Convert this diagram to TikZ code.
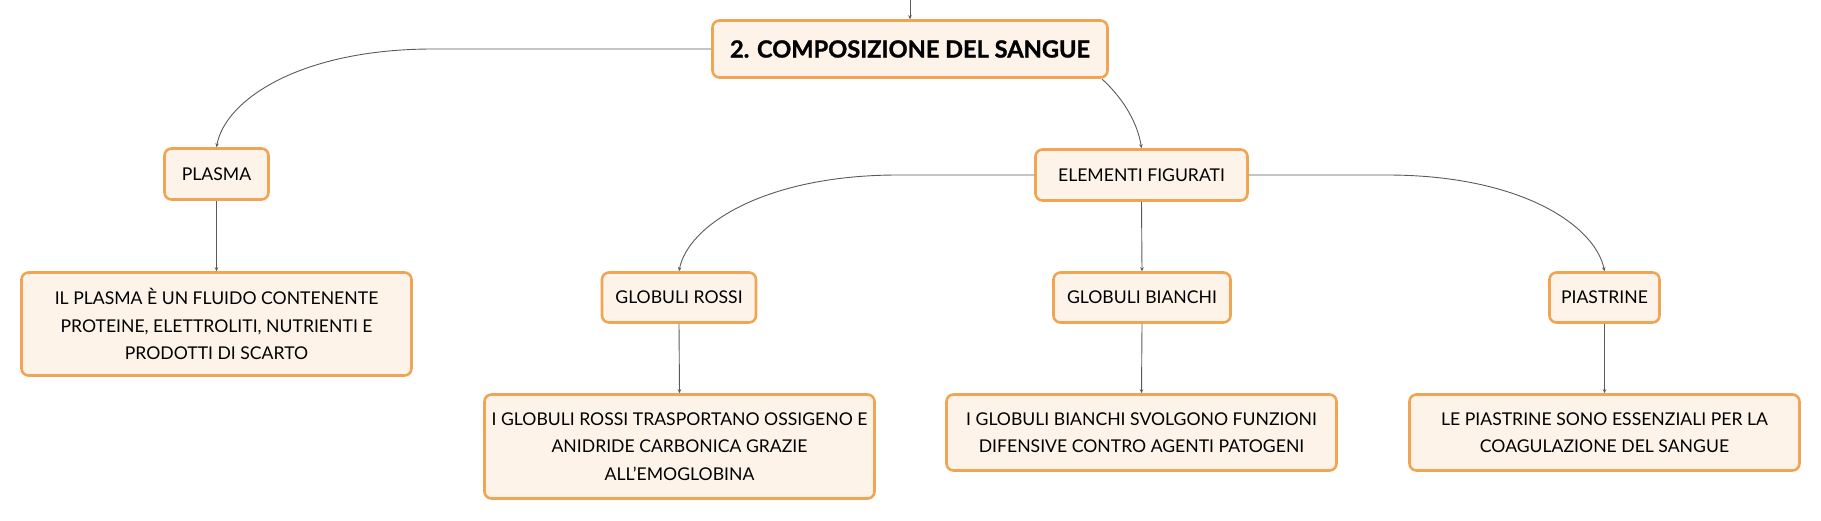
\documentclass[tikz,border=0pt]{standalone}
\usepackage{fontspec}
\setmainfont{Lato}
\newfontfamily\heavyfont{Lato}[BoldFeatures={FakeBold=1.2}]
\usetikzlibrary{arrows.meta}
\definecolor{boxborder}{HTML}{F2A455}
\definecolor{boxfill}{HTML}{FDF3E9}
\definecolor{linegray}{HTML}{5A5A5A}
\tikzset{
  box/.style={draw=boxborder, fill=boxfill, line width=2.6pt, rounded corners=7pt,
    align=center, inner sep=0pt, font=\fontsize{17.6}{27.5}\selectfont, text=black},
  conn/.style={draw=linegray, line width=0.9pt, -{Stealth[length=4pt,width=3.5pt]}},
}
\begin{document}
\begin{tikzpicture}[x=1pt,y=-1pt]
\useasboundingbox (0,0) rectangle (1821,520);
% nodes
\node[box, minimum width=395pt, minimum height=57pt, font=\fontsize{23.6}{28}\selectfont\heavyfont\bfseries] (main) at (910,49) {2. COMPOSIZIONE DEL SANGUE};
\node[box, minimum width=104pt, minimum height=51pt] (plasma) at (216.5,174) {PLASMA};
\node[box, minimum width=212pt, minimum height=51pt] (elem) at (1141.5,175) {ELEMENTI FIGURATI};
\node[box, minimum width=390pt, minimum height=103pt] (ptext) at (216.5,324) {IL PLASMA È UN FLUIDO CONTENENTE\\PROTEINE, ELETTROLITI, NUTRIENTI E\\PRODOTTI DI SCARTO};
\node[box, minimum width=154pt, minimum height=50pt] (gr) at (679,297.5) {GLOBULI ROSSI};
\node[box, minimum width=177pt, minimum height=50pt] (gb) at (1142,297.5) {GLOBULI BIANCHI};
\node[box, minimum width=110pt, minimum height=50pt] (pi) at (1604.5,297.5) {PIASTRINE};
\node[box, minimum width=390pt, minimum height=104pt] (grtext) at (679.5,446.5) {I GLOBULI ROSSI TRASPORTANO OSSIGENO E\\ANIDRIDE CARBONICA GRAZIE\\ALL'EMOGLOBINA};
\node[box, minimum width=390pt, minimum height=76pt] (gbtext) at (1141.5,432.5) {I GLOBULI BIANCHI SVOLGONO FUNZIONI\\DIFENSIVE CONTRO AGENTI PATOGENI};
\node[box, minimum width=390pt, minimum height=76pt] (pitext) at (1604.5,432.5) {LE PIASTRINE SONO ESSENZIALI PER LA\\COAGULAZIONE DEL SANGUE};
% helper coordinates
\coordinate (top) at (910,0);
\coordinate (mleft) at (433,49);
\coordinate (mse) at (1102,79);
\coordinate (eleft) at (898,175);
\coordinate (eright) at (1387,175);
% connectors
\draw[conn] (top) -- (main.north);
\draw[conn] (main.west) -- (mleft) .. controls (300,49) and (225,100) .. (plasma.north);
\draw[conn] (mse) .. controls (1125,100) and (1138,125) .. (elem.north);
\draw[conn] (elem.west) -- (eleft) .. controls (765,175) and (688,225) .. (gr.north);
\draw[conn] (elem.east) -- (eright) .. controls (1520,175) and (1595,225) .. (pi.north);
\draw[conn] (plasma.south) -- (ptext.north);
\draw[conn] (gr.south) -- (grtext.north);
\draw[conn] (elem.south) -- (gb.north);
\draw[conn] (gb.south) -- (gbtext.north);
\draw[conn] (pi.south) -- (pitext.north);
\end{tikzpicture}
\end{document}
